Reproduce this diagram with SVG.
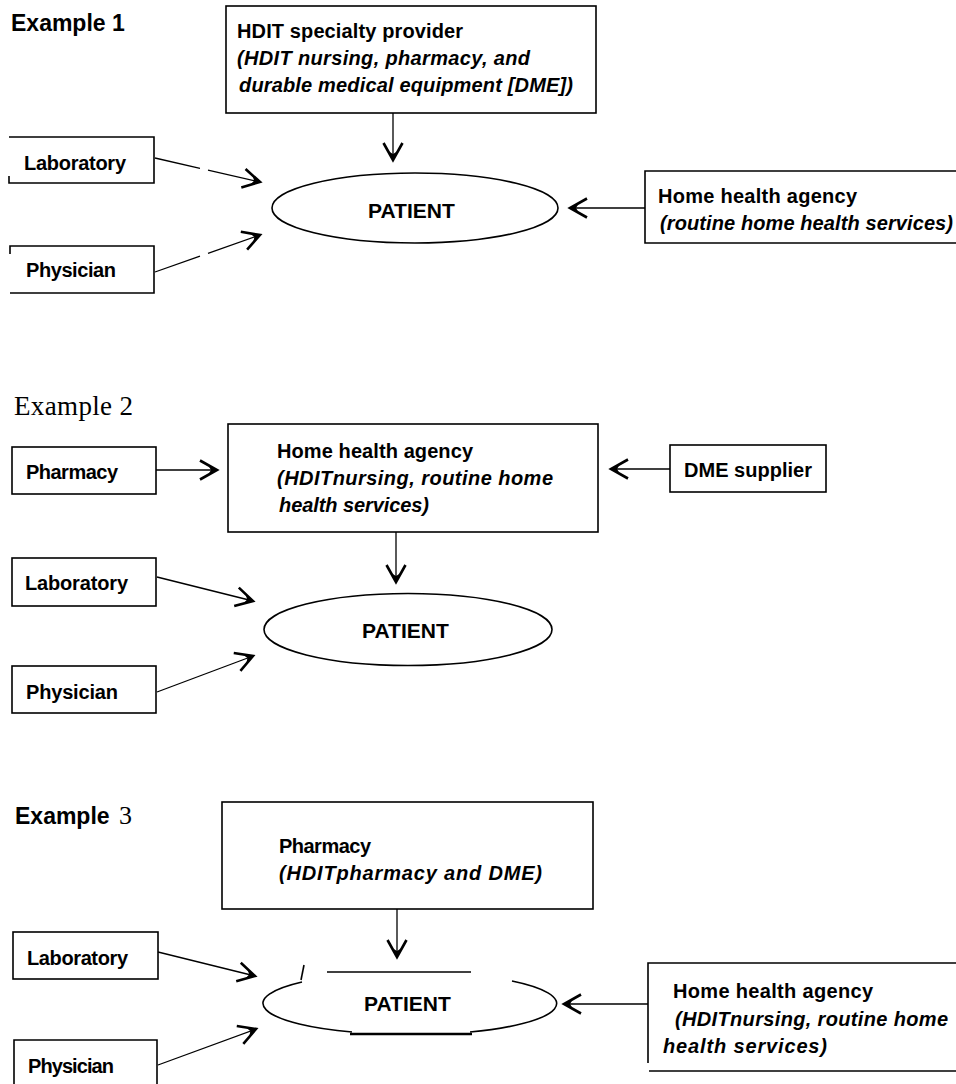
<svg xmlns="http://www.w3.org/2000/svg" width="956" height="1084" viewBox="0 0 956 1084">
<style>
  .box{fill:none;stroke:#000;stroke-width:1.6}
  .t{font-family:"Liberation Sans",Arial,sans-serif;font-weight:bold;font-size:20px;fill:#000}
  .p{font-family:"Liberation Sans",Arial,sans-serif;font-weight:bold;font-size:21px;fill:#000}
  .ti{font-family:"Liberation Sans",Arial,sans-serif;font-weight:bold;font-style:italic;font-size:20px;fill:#000}
  .h{font-family:"Liberation Sans",Arial,sans-serif;font-weight:bold;font-size:23px;fill:#000}
  .s{font-family:"Liberation Serif","Times New Roman",serif;fill:#000}
  .c{fill:none;stroke:#000;stroke-width:1.3}
</style>
<defs>
  <marker id="ah" viewBox="-21 -12 24 24" refX="0" refY="0" markerWidth="24" markerHeight="24" markerUnits="userSpaceOnUse" orient="auto">
    <path d="M-17,-9.5 L0,0 L-17,9.5" fill="none" stroke="#000" stroke-width="2.6"/>
    <path d="M-9,-5 L0,0 L-9,5 L-6,0 Z" fill="#000"/>
  </marker>
</defs>
<rect width="956" height="1084" fill="#fff"/>

<!-- Example 1 -->
<g id="title1"><text class="h" x="11" y="31">Example 1</text></g>
<g id="ex1-hdit">
  <rect class="box" x="226" y="6" width="370" height="107"/>
  <text class="t" x="237" y="38" textLength="226" lengthAdjust="spacing">HDIT specialty provider</text>
  <text class="ti" x="237" y="65" textLength="293" lengthAdjust="spacing">(HDIT nursing, pharmacy, and</text>
  <text class="ti" x="239" y="92" textLength="334" lengthAdjust="spacing">durable medical equipment [DME])</text>
</g>
<g id="ex1-lab">
  <path class="box" d="M9,176 V183 H154 V137 H9"/>
  <text class="t" x="24" y="170" textLength="102" lengthAdjust="spacing">Laboratory</text>
</g>
<g id="ex1-phys">
  <path class="box" d="M10,254 V246 H154 V293 H10"/>
  <text class="t" x="26" y="277" textLength="90" lengthAdjust="spacing">Physician</text>
</g>
<g id="ex1-patient">
  <ellipse class="box" cx="415" cy="208" rx="143" ry="35"/>
  <text class="p" x="368" y="218">PATIENT</text>
</g>
<g id="ex1-hha">
  <path class="box" d="M956,171 H645 V243 H956"/>
  <text class="t" x="658" y="203" textLength="199" lengthAdjust="spacing">Home health agency</text>
  <text class="ti" x="660" y="230" textLength="293" lengthAdjust="spacing">(routine home health services)</text>
</g>

<!-- Example 2 -->
<g id="title2"><text class="s" x="14" y="415" font-size="27" textLength="119" lengthAdjust="spacing">Example 2</text></g>
<g id="ex2-pharm">
  <rect class="box" x="12" y="447" width="144" height="47"/>
  <text class="t" x="26" y="479" textLength="92" lengthAdjust="spacing">Pharmacy</text>
</g>
<g id="ex2-hha">
  <rect class="box" x="228" y="424" width="370" height="108"/>
  <text class="t" x="277" y="458" textLength="196" lengthAdjust="spacing">Home health agency</text>
  <text class="ti" x="277" y="485" textLength="276" lengthAdjust="spacing">(HDITnursing, routine home</text>
  <text class="ti" x="279" y="512" textLength="150" lengthAdjust="spacing">health services)</text>
</g>
<g id="ex2-dme">
  <rect class="box" x="670" y="445" width="156" height="47"/>
  <text class="t" x="684" y="477" textLength="128" lengthAdjust="spacing">DME supplier</text>
</g>
<g id="ex2-lab">
  <rect class="box" x="12" y="558" width="144" height="48"/>
  <text class="t" x="25" y="590" textLength="103" lengthAdjust="spacing">Laboratory</text>
</g>
<g id="ex2-patient">
  <ellipse class="box" cx="408" cy="629.5" rx="144" ry="36"/>
  <text class="p" x="362" y="638">PATIENT</text>
</g>
<g id="ex2-phys">
  <rect class="box" x="12" y="666" width="144" height="47"/>
  <text class="t" x="26" y="699" textLength="92" lengthAdjust="spacing">Physician</text>
</g>

<!-- Example 3 -->
<g id="title3">
  <text class="h" x="15" y="824">Example</text>
  <text class="s" x="119" y="824" font-size="26">3</text>
</g>
<g id="ex3-pharm">
  <rect class="box" x="222" y="802" width="371" height="107"/>
  <text class="t" x="279" y="853" textLength="92" lengthAdjust="spacing">Pharmacy</text>
  <text class="ti" x="279" y="880" textLength="263" lengthAdjust="spacing">(HDITpharmacy and DME)</text>
</g>
<g id="ex3-lab">
  <rect class="box" x="13" y="932" width="145" height="47"/>
  <text class="t" x="27" y="965" textLength="101" lengthAdjust="spacing">Laboratory</text>
</g>
<g id="ex3-patient">
  <path class="box" d="M302,982 A143,31 0 0,0 352,1032"/>
  <path class="box" d="M512,981 A143,31 0 0,1 470,1032"/>
  <path d="M350,1034 H472" stroke="#000" stroke-width="2.6" fill="none"/>
  <path d="M327,972 H471" stroke="#000" stroke-width="1.6" fill="none"/>
  <path d="M304,965 L301,980" stroke="#000" stroke-width="1.6" fill="none"/>
  <text class="p" x="364" y="1011">PATIENT</text>
</g>
<g id="ex3-phys">
  <path class="box" d="M14,1084 V1040 H157 V1084"/>
  <text class="t" x="28" y="1073" textLength="86" lengthAdjust="spacing">Physician</text>
</g>
<g id="ex3-hha">
  <path class="box" d="M956,963 H648 V1063"/>
  <path class="box" d="M649,1071 H956"/>
  <text class="t" x="673" y="998" textLength="200" lengthAdjust="spacing">Home health agency</text>
  <text class="ti" x="675" y="1026" textLength="273" lengthAdjust="spacing">(HDITnursing, routine home</text>
  <text class="ti" x="663" y="1053" textLength="164" lengthAdjust="spacing">health services)</text>
</g>

<!-- Connectors -->
<g id="connectors">
  <!-- Example 1 -->
  <line class="c" x1="393" y1="113" x2="393" y2="160" marker-end="url(#ah)"/>
  <line class="c" x1="155" y1="158" x2="200" y2="168.3"/>
  <line class="c" x1="208" y1="170.1" x2="260" y2="182" marker-end="url(#ah)"/>
  <line class="c" x1="155" y1="272" x2="200" y2="256.1"/>
  <line class="c" x1="208" y1="253.3" x2="260" y2="235" marker-end="url(#ah)"/>
  <line class="c" x1="645" y1="208" x2="570" y2="208" marker-end="url(#ah)"/>
  <!-- Example 2 -->
  <line class="c" x1="156" y1="470" x2="217" y2="470" marker-end="url(#ah)"/>
  <line class="c" x1="670" y1="469" x2="611" y2="469" marker-end="url(#ah)"/>
  <line class="c" x1="396" y1="532" x2="396" y2="582" marker-end="url(#ah)"/>
  <line class="c" x1="157" y1="577" x2="253" y2="601" marker-end="url(#ah)"/>
  <line class="c" x1="157" y1="692" x2="253" y2="656" marker-end="url(#ah)"/>
  <!-- Example 3 -->
  <line class="c" x1="397" y1="909" x2="397" y2="957" marker-end="url(#ah)"/>
  <line class="c" x1="158" y1="952" x2="255" y2="976" marker-end="url(#ah)"/>
  <line class="c" x1="158" y1="1065" x2="256" y2="1029" marker-end="url(#ah)"/>
  <line class="c" x1="648" y1="1004" x2="564" y2="1004" marker-end="url(#ah)"/>
</g>
</svg>
